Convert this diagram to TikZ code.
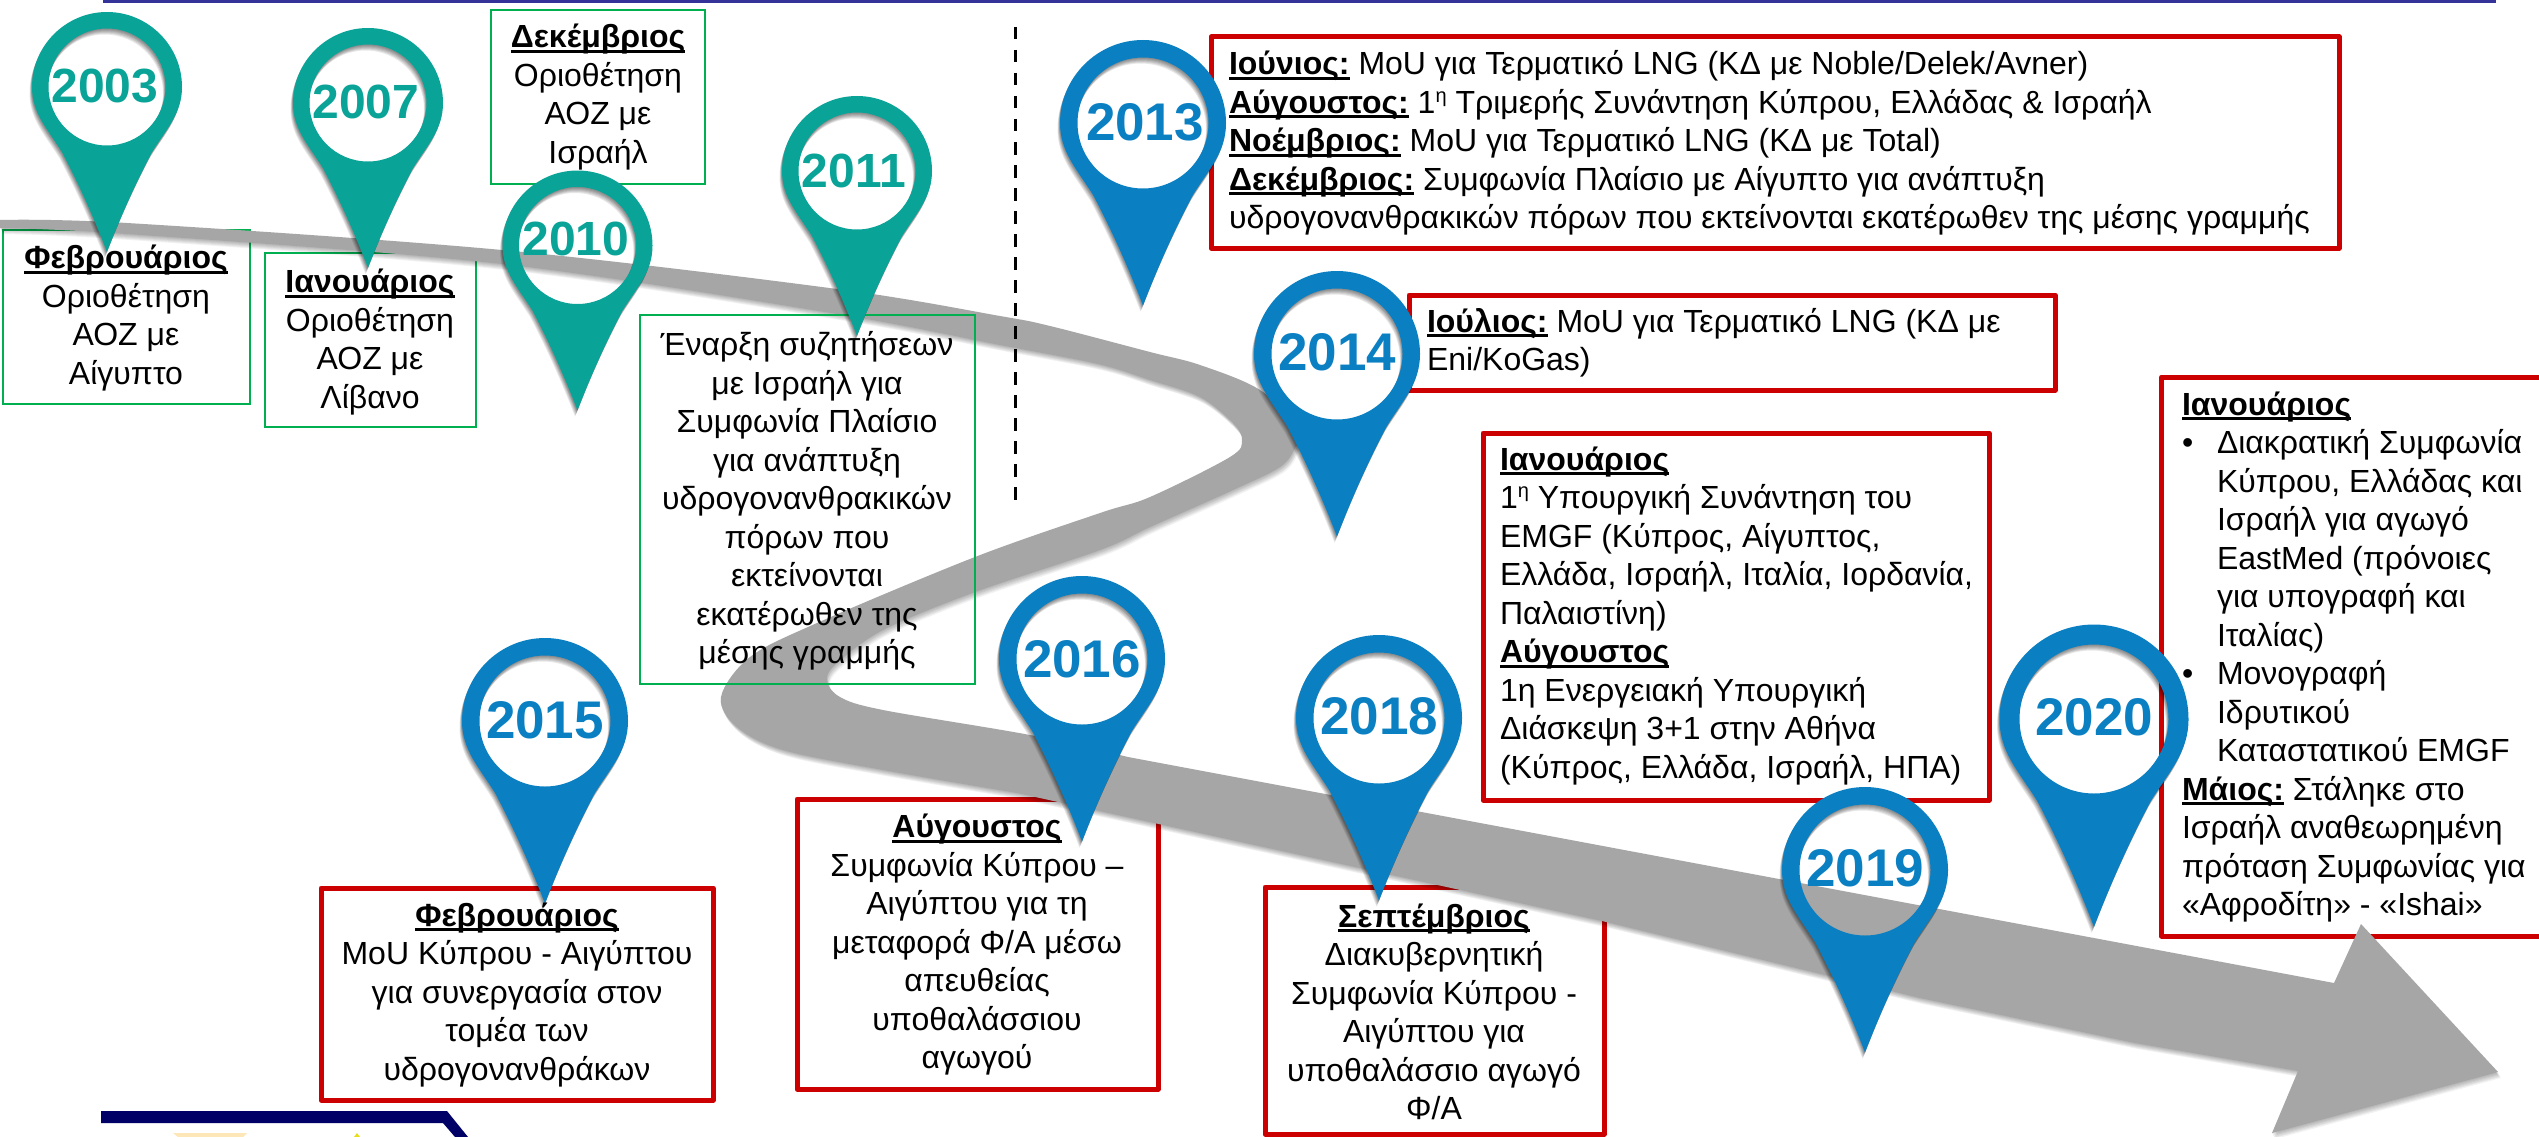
\documentclass[tikz,border=0pt]{standalone}
\usepackage{fontspec}
\setmainfont{Liberation Sans}
\definecolor{teal1}{HTML}{0AA398}
\definecolor{blue1}{HTML}{0A80C3}
\definecolor{red1}{HTML}{CC0000}
\definecolor{green1}{HTML}{00B050}
\definecolor{ribbon}{HTML}{A6A6A6}
\definecolor{topbar}{HTML}{333399}
\definecolor{navy1}{HTML}{000066}
\newcommand\hd[1]{\setbox0\hbox{\bfseries #1}\rlap{\rule[-5pt]{\wd0}{3pt}}\box0\relax}
\newcommand\sss{\raisebox{11pt}{\fontsize{20}{20}\selectfont η}}
\newcommand\ribbonpath{(0,220) -- plot[smooth,tension=.55] coordinates {(0,220) (127,223) (502,250) (837,289) (1000,316) (1050,326) (1150,352) (1200,365) (1260,390) (1300,430) (1295,448) (1280,467) (1233,490) (1150,527) (1100,550) (975,592) (883,630) (837,663) (827,680) (840,697) (883,710) (1030,735) (1128,757)}
 -- (2334,983) -- (2361,924) -- (2498,1072) -- (2272,1133) -- (2298,1071) -- (2135,1043) -- (1920,998) -- (1602,921) -- (1017,793)
 -- plot[smooth,tension=.55] coordinates {(1017,793) (883,770) (783,750) (737,727) (721,697) (750,657) (817,623) (975,557) (1100,513) (1150,497) (1230,457) (1242,440) (1233,423) (1200,397) (1150,380) (1098,364) (1000,345) (837,314) (502,264) (127,234) (0,228)} -- cycle}
\newcommand\pinpath{(0,2.2) .. controls (-.2,1.68) and (-.4,1.25) .. (-.6,.87) .. controls (-.8,.55) and (-1,.35) .. (-1,0) .. controls (-1,-.55) and (-.55,-1) .. (0,-1) .. controls (.55,-1) and (1,-.55) .. (1,0) .. controls (1,.35) and (.8,.55) .. (.6,.87) .. controls (.4,1.25) and (.2,1.68) .. (0,2.2) -- cycle}
% cx cy R r colour
\newcommand\mkpin[5]{%
 \begin{scope}[shift={(#1,#2)},x=#3pt,y=-#3pt]
  \foreach \dx/\dy in {-.5/1,-1/2,-1/3,-1.5/4,-2/5,-2.5/6}{\fill[black,opacity=.09,even odd rule,xshift=\dx pt,yshift=-\dy pt] \pinpath (0,0) circle[radius={#4/#3}];}
  \fill[#5,even odd rule] \pinpath (0,0) circle[radius={#4/#3}];
 \end{scope}}
\tikzset{
 redbox/.style={draw=red1,line width=5pt,line join=round,inner sep=0,outer sep=0},
 greenbox/.style={draw=green1,line width=2.5pt,inner sep=0,outer sep=0},
 txt/.style={font=\fontsize{32}{38.5}\selectfont,inner sep=0,outer sep=0,align=center,text=black},
 txtl/.style={txt,align=left,anchor=west},
 yearT/.style={font=\fontsize{48}{48}\selectfont\bfseries,text=teal1,inner sep=0,outer sep=0},
 yearB/.style={font=\fontsize{53}{53}\selectfont\bfseries,text=blue1,inner sep=0,outer sep=0},
}
\newcommand\frameb[6]{\node[#2,minimum width={#5-#3},minimum height={#6-#4}] (#1) at ({(#3+#5)/2},{(#4+#6)/2}) {};}
\begin{document}
\begin{tikzpicture}[x=1pt,y=-1pt]
\useasboundingbox (0,0) rectangle (2539,1137);
\fill[white] (0,0) rectangle (2539,1137);
% page furniture
\fill[topbar] (103,0) rectangle (2496,3.5);
\fill[navy1] (101,1111) -- (447,1111) -- (468,1137) -- (455,1137) -- (443,1123) -- (101,1123) -- cycle;
\fill[yellow!30!orange!25] (173,1133) -- (247,1133) -- (243,1137) -- (178,1137) -- cycle;
\fill[yellow!90!black] (357,1133) -- (354,1137) -- (360,1137) -- cycle;
% frames under the ribbon
\frameb{f2003}{greenbox}{3}{230}{250}{404}
\frameb{f2007}{greenbox}{265}{253}{476}{427}
\frameb{f2010}{greenbox}{491}{10}{705}{184}
\frameb{f2015}{redbox}{321}{888}{713}{1100}
\frameb{f2016}{redbox}{797}{799}{1158}{1089}
\frameb{f2018}{redbox}{1265}{887}{1604}{1134}
\frameb{f2013}{redbox}{1211}{37}{2339}{248}
\frameb{f2014}{redbox}{1409}{295}{2055}{390}
\frameb{femgf}{redbox}{1483}{433}{1989}{800}
\frameb{f2020}{redbox}{2161.5}{377}{2570}{936}
% ribbon
\foreach \dx/\dy in {0/1,1/2,1/3,2/4,2/5,3/6}{\fill[black,opacity=.05,xshift=\dx pt,yshift=-\dy pt] \ribbonpath;}
\fill[ribbon] \ribbonpath;
\frameb{f2011}{greenbox}{640}{315}{975}{684}
\coordinate (dashtop) at (1015,27);
\coordinate (dashbot) at (1015,504);
\draw[black,line width=3pt,dash pattern=on 12.5pt off 10.5pt] (dashtop) -- (dashbot);
% pins
\mkpin{107}{87}{75}{58.5}{teal1}
\mkpin{368}{103}{75}{58.5}{teal1}
\mkpin{577.5}{245.5}{75}{58.5}{teal1}
\mkpin{857}{171}{75}{58.5}{teal1}
\mkpin{545}{721}{83}{65.5}{blue1}
\mkpin{1143}{123}{83}{65.5}{blue1}
\mkpin{1337}{354}{83}{65.5}{blue1}
\mkpin{1082}{659}{83}{65.5}{blue1}
\mkpin{1379}{718}{83}{65.5}{blue1}
\mkpin{1865}{870}{83}{65.5}{blue1}
\mkpin{2094}{719}{94.5}{74.5}{blue1}
\node[yearT] (y2003) at (105,86) {2003};
\node[yearT] (y2007) at (366,102) {2007};
\node[yearT] (y2010) at (576,239) {2010};
\node[yearT] (y2011) at (854,171) {2011};
\node[yearB] (y2015) at (545,720) {2015};
\node[yearB] (y2013) at (1145,122) {2013};
\node[yearB] (y2014) at (1337,352) {2014};
\node[yearB] (y2016) at (1082,659) {2016};
\node[yearB] (y2018) at (1379,716) {2018};
\node[yearB] (y2019) at (1865,868) {2019};
\node[yearB] (y2020) at (2094,717) {2020};
% texts
\node[txt] (t2003) at (126,318) {\hd{Φεβρουάριος}\\Οριοθέτηση\\ΑΟΖ με\\Αίγυπτο};
\node[txt] (t2007) at (370,342) {\hd{Ιανουάριος}\\Οριοθέτηση\\ΑΟΖ με\\Λίβανο};
\node[txt] (t2010) at (598,97) {\hd{Δεκέμβριος}\\Οριοθέτηση\\ΑΟΖ με\\Ισραήλ};
\node[txt] (t2011) at (807,501) {Έναρξη συζητήσεων\\με Ισραήλ για\\Συμφωνία Πλαίσιο\\για ανάπτυξη\\υδρογονανθρακικών\\πόρων που\\εκτείνονται\\εκατέρωθεν της\\μέσης γραμμής};
\node[txt] (t2015) at (517,995) {\hd{Φεβρουάριος}\\MoU Κύπρου - Αιγύπτου\\για συνεργασία στον\\τομέα των\\υδρογονανθράκων};
\node[txt] (t2016) at (977,945) {\hd{Αύγουστος}\\Συμφωνία Κύπρου --\\Αιγύπτου για τη\\μεταφορά Φ/Α μέσω\\απευθείας\\υποθαλάσσιου\\αγωγού};
\node[txt] (t2018) at (1434,1012) {\hd{Σεπτέμβριος}\\Διακυβερνητική\\Συμφωνία Κύπρου -\\Αιγύπτου για\\υποθαλάσσιο αγωγό\\Φ/Α};
\node[txtl] (t2013) at (1229,143) {\hd{Ιούνιος:} MoU για Τερματικό LNG (ΚΔ με Noble/Delek/Avner)\\\hd{Αύγουστος:} 1\sss{} Τριμερής Συνάντηση Κύπρου, Ελλάδας \& Ισραήλ\\\hd{Νοέμβριος:} MoU για Τερματικό LNG (ΚΔ με Total)\\\hd{Δεκέμβριος:} Συμφωνία Πλαίσιο με Αίγυπτο για ανάπτυξη\\υδρογονανθρακικών πόρων που εκτείνονται εκατέρωθεν της μέσης γραμμής};
\node[txtl] (t2014) at (1427,343) {\hd{Ιούλιος:} MoU για Τερματικό LNG (ΚΔ με\\Eni/KoGas)};
\node[txtl] (temgf) at (1500,616) {\hd{Ιανουάριος}\\1\sss{} Υπουργική Συνάντηση του\\EMGF (Κύπρος, Αίγυπτος,\\Ελλάδα, Ισραήλ, Ιταλία, Ιορδανία,\\Παλαιστίνη)\\\hd{Αύγουστος}\\1η Ενεργειακή Υπουργική\\Διάσκεψη 3+1 στην Αθήνα\\(Κύπρος, Ελλάδα, Ισραήλ, ΗΠΑ)};
\node[txtl] (t2020) at (2182,657) {\hd{Ιανουάριος}\\\rlap{•}\hspace*{35pt}Διακρατική Συμφωνία\\\hspace*{35pt}Κύπρου, Ελλάδας και\\\hspace*{35pt}Ισραήλ για αγωγό\\\hspace*{35pt}EastMed (πρόνοιες\\\hspace*{35pt}για υπογραφή και\\\hspace*{35pt}Ιταλίας)\\\rlap{•}\hspace*{35pt}Μονογραφή\\\hspace*{35pt}Ιδρυτικού\\\hspace*{35pt}Καταστατικού EMGF\\\hd{Μάιος:} Στάληκε στο\\Ισραήλ αναθεωρημένη\\πρόταση Συμφωνίας για\\«Αφροδίτη» - «Ishai»};
\end{tikzpicture}
\end{document}
